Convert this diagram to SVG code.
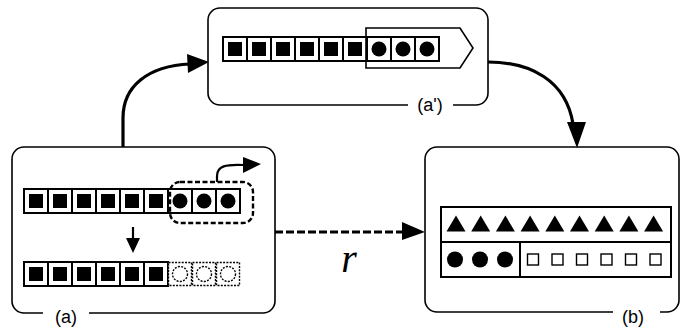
<svg xmlns="http://www.w3.org/2000/svg" width="681" height="329" viewBox="0 0 681 329">
  <defs>
    <style>
      .frame { fill: none; stroke: #000; stroke-width: 1.6; }
      .cell { fill: #fff; stroke: #000; stroke-width: 2; }
      .cell-empty { fill: #fff; stroke: #000; stroke-width: 1.4; stroke-dasharray: 2 1.3; }
      .sq { fill: #000; }
      .dot { fill: #000; }
      .dot-empty { fill: none; stroke: #000; stroke-width: 1.4; stroke-dasharray: 2 1.3; }
      .label { font-family: "Liberation Sans", Arial, sans-serif; font-size: 18px; fill: #000; text-anchor: middle; }
      .wire { fill: none; stroke: #000; stroke-width: 3.2; }
      .head { fill: #000; }
    </style>
    <!-- one full cell with a black square inside -->
    <g id="sqcell">
      <rect class="cell" x="0" y="0" width="24" height="24"/>
      <rect class="sq" x="5" y="5" width="14" height="14"/>
    </g>
    <g id="dotcell">
      <rect class="cell" x="0" y="0" width="24" height="24"/>
      <circle class="dot" cx="12" cy="12" r="7.5"/>
    </g>
    <g id="emptycell">
      <rect class="cell-empty" x="0.5" y="0.5" width="23" height="23"/>
      <circle class="dot-empty" cx="12" cy="12" r="7.5"/>
    </g>
    <polygon id="tri" points="0,-8.5 9.5,7.5 -9.5,7.5"/>
    <rect id="box" x="-5.5" y="-5.5" width="11" height="11" fill="#fff" stroke="#000" stroke-width="1.4"/>
  </defs>

  <!-- (a): array before and after moving the last three items out -->
  <g id="node-a">
    <path class="frame" d="M43,313 H24 A12,12 0 0 1 12,301 V159 A12,12 0 0 1 24,147 H263 A12,12 0 0 1 275,159 V301 A12,12 0 0 1 263,313 H89"/>
    <text class="label" x="66" y="323">(a)</text>
    <g transform="translate(24,189)">
      <use href="#sqcell" x="0"/>
      <use href="#sqcell" x="24"/>
      <use href="#sqcell" x="48"/>
      <use href="#sqcell" x="72"/>
      <use href="#sqcell" x="96"/>
      <use href="#sqcell" x="120"/>
      <use href="#dotcell" x="144"/>
      <use href="#dotcell" x="168"/>
      <use href="#dotcell" x="192"/>
    </g>
    <rect x="170" y="182" width="83" height="41" rx="10" fill="none" stroke="#000" stroke-width="2.4" stroke-dasharray="5 2.5"/>
    <path d="M217,182 V176 C217,166 226,164 244,165" fill="none" stroke="#000" stroke-width="2.2"/>
    <polygon class="head" points="243,157 261,164 243,173"/>
    <line x1="133" y1="227" x2="133" y2="240" stroke="#000" stroke-width="2.2"/>
    <polygon class="head" points="126,238 140,238 133,253"/>
    <g transform="translate(24,262)">
      <use href="#sqcell" x="0"/>
      <use href="#sqcell" x="24"/>
      <use href="#sqcell" x="48"/>
      <use href="#sqcell" x="72"/>
      <use href="#sqcell" x="96"/>
      <use href="#sqcell" x="120"/>
      <use href="#emptycell" x="144"/>
      <use href="#emptycell" x="168"/>
      <use href="#emptycell" x="192"/>
    </g>
  </g>

  <!-- (a'): array with the tail marked as an outgoing block -->
  <g id="node-a-prime">
    <path class="frame" d="M408,105 H220 A12,12 0 0 1 208,93 V20 A12,12 0 0 1 220,8 H476 A12,12 0 0 1 488,20 V93 A12,12 0 0 1 476,105 H453"/>
    <text class="label" x="430" y="111">(a')</text>
    <g transform="translate(223,37)">
      <use href="#sqcell" x="0"/>
      <use href="#sqcell" x="24"/>
      <use href="#sqcell" x="48"/>
      <use href="#sqcell" x="72"/>
      <use href="#sqcell" x="96"/>
      <use href="#sqcell" x="120"/>
      <use href="#dotcell" x="144"/>
      <use href="#dotcell" x="168"/>
      <use href="#dotcell" x="192"/>
    </g>
    <path d="M366,28 H460 L473,48 L460,68 H366 Z" fill="none" stroke="#000" stroke-width="1.6"/>
  </g>

  <!-- (b): table of results -->
  <g id="node-b">
    <path class="frame" d="M613,312 H437 A12,12 0 0 1 425,300 V159 A12,12 0 0 1 437,147 H667 A12,12 0 0 1 679,159 V300 A12,12 0 0 1 667,312 H660"/>
    <text class="label" x="633" y="323">(b)</text>
    <rect x="441" y="207" width="230" height="70" fill="none" stroke="#000" stroke-width="2"/>
    <line x1="441" y1="242" x2="671" y2="242" stroke="#000" stroke-width="2"/>
    <line x1="520" y1="242" x2="520" y2="277" stroke="#000" stroke-width="2"/>
    <g transform="translate(0,224)">
      <use href="#tri" x="456"/>
      <use href="#tri" x="480.7"/>
      <use href="#tri" x="505.4"/>
      <use href="#tri" x="530.1"/>
      <use href="#tri" x="554.8"/>
      <use href="#tri" x="579.5"/>
      <use href="#tri" x="604.2"/>
      <use href="#tri" x="628.9"/>
      <use href="#tri" x="653.6"/>
    </g>
    <circle class="dot" cx="455" cy="259.5" r="8"/>
    <circle class="dot" cx="480" cy="259.5" r="8"/>
    <circle class="dot" cx="505" cy="259.5" r="8"/>
    <g transform="translate(0,259.5)">
      <use href="#box" x="533"/>
      <use href="#box" x="557.5"/>
      <use href="#box" x="582"/>
      <use href="#box" x="606.5"/>
      <use href="#box" x="631"/>
      <use href="#box" x="655.5"/>
    </g>
  </g>

  <!-- connectors -->
  <g id="connectors">
    <path class="wire" d="M123,147 V118 C123,86 148,66 190,64"/>
    <polygon class="head" points="187,54 209,62 188,73"/>
    <path class="wire" d="M488,62 C530,62 566,80 573,124"/>
    <polygon class="head" points="567,122 586,122 577,148"/>
    <line class="wire" x1="275" y1="232" x2="404" y2="232" stroke-dasharray="8 3"/>
    <polygon class="head" points="402,222 425,232 402,240"/>
    <text x="349" y="272" font-family="'Liberation Serif', 'Times New Roman', serif" font-style="italic" font-size="40" text-anchor="middle">r</text>
  </g>
</svg>
